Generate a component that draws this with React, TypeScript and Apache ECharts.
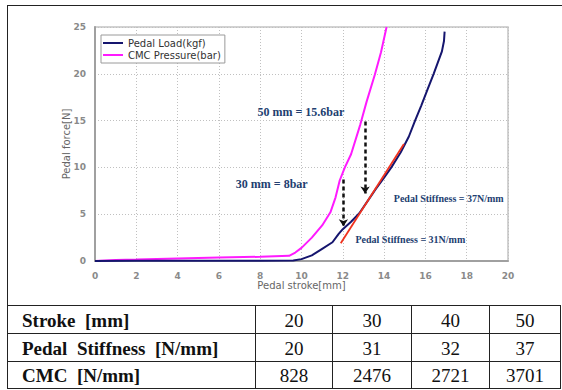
import React, { useEffect, useRef } from 'react';
import * as echarts from 'echarts';

// ---- chart data ----
const pedalLoad: [number, number][] = [
  [0, 0], [2, 0.02], [5, 0.03], [8, 0.04], [9.6, 0.05], [10, 0.2], [10.5, 0.6], [11, 1.3],
  [11.5, 2.0], [11.8, 2.9], [12, 3.4], [12.4, 4.2], [12.8, 5.1], [13.2, 6.4], [13.6, 7.7],
  [14, 8.9], [14.35, 10], [14.8, 11.6], [15.2, 13.3], [15.5, 15], [15.8, 16.6], [16.1, 18.3],
  [16.4, 20], [16.6, 21.2], [16.8, 22.4], [16.9, 23.5], [16.93, 24.5],
];
const cmcPressure: [number, number][] = [
  [0, 0], [1, 0.1], [2, 0.15], [4, 0.28], [6, 0.38], [8, 0.45], [9.4, 0.55], [9.7, 0.9],
  [10, 1.4], [10.5, 2.5], [11, 3.8], [11.4, 5.2], [11.65, 6.8], [11.85, 8.6], [12.1, 10],
  [12.4, 11.4], [12.85, 14.6], [13.15, 17], [13.55, 19.9], [13.85, 22.3], [14.12, 25],
];
const stiffnessLine: [number, number][] = [[11.9, 1.9], [14.96, 12.5]];
const arrowX = [12.03, 13.08];
const arrowFrom = [8.7, 14.9];
const arrowTo = [3.7, 7.2];
const noteTexts = ['50 mm = 15.6bar', '30 mm = 8bar', 'Pedal Stiffness = 37N/mm', 'Pedal Stiffness = 31N/mm'];
const noteX = [9.97, 8.56, 17.13, 15.27];
const noteY = [15.87, 8.24, 6.63, 2.32];
const seriesNames = ['Pedal Load(kgf)', 'CMC Pressure(bar)'];

// ---- table data ----
const tableLabels = ['Stroke\u00a0 [mm]', 'Pedal\u00a0 Stiffness\u00a0 [N/mm]', 'CMC\u00a0 [N/mm]'];
const strokeValues = [20, 30, 40, 50];
const stiffnessValues = [20, 31, 32, 37];
const cmcValues = [828, 2476, 2721, 3701];

export default function App() {
  const ref = useRef<HTMLDivElement>(null);
  useEffect(() => {
    if (!ref.current) return;
    const chart = echarts.init(ref.current, undefined, { renderer: 'svg' });

    const noteStyles = [
      { fontSize: 12 }, { fontSize: 12 }, { fontSize: 10 }, { fontSize: 10 },
    ];

    // table layout
    const L = 7, R = 561, T = 5, B = 388.5;
    const rowLines = [305.5, 333.5, 361.5, 388.5];
    const colLines = [255.5, 332.5, 411.5, 489.5, 560.5];
    const rows = [strokeValues, stiffnessValues, cmcValues];
    const lineStyle = { stroke: '#222', lineWidth: 1 };
    const serif = '"Liberation Serif", "Times New Roman", serif';
    const graphics: any[] = [
      { type: 'line', shape: { x1: L + 0.5, y1: T, x2: L + 0.5, y2: B }, style: lineStyle, silent: true },
      { type: 'line', shape: { x1: L, y1: T + 0.5, x2: R + 1, y2: T + 0.5 }, style: lineStyle, silent: true },
    ];
    rowLines.forEach((y) => {
      graphics.push({ type: 'line', shape: { x1: L, y1: y, x2: R, y2: y }, style: lineStyle, silent: true });
    });
    colLines.forEach((x) => {
      graphics.push({ type: 'line', shape: { x1: x, y1: rowLines[0], x2: x, y2: B }, style: lineStyle, silent: true });
    });
    rows.forEach((vals, r) => {
      const cy = (rowLines[r] + rowLines[r + 1]) / 2 + 0.5;
      graphics.push({
        type: 'text', x: 22, y: cy, silent: true,
        style: {
          text: tableLabels[r], fill: '#111', fontSize: 19, fontWeight: 'bold',
          fontFamily: serif, align: 'left', verticalAlign: 'middle',
        },
      });
      vals.forEach((v, c) => {
        graphics.push({
          type: 'text', x: (colLines[c] + colLines[c + 1]) / 2, y: cy, silent: true,
          style: {
            text: String(v), fill: '#111', fontSize: 19,
            fontFamily: serif, align: 'center', verticalAlign: 'middle',
          },
        });
      });
    });

    const tickLabel = { color: '#8a8a8a', fontSize: 9, fontWeight: 'bold' as const, fontFamily: '"DejaVu Sans", sans-serif' };

    chart.setOption({
      animation: false,
      backgroundColor: '#fff',
      grid: { left: 95, top: 27, width: 413, height: 234, show: true, borderColor: '#c4c4c4', borderWidth: 1.5, backgroundColor: '#fff' },
      legend: {
        data: seriesNames.map((n) => ({ name: n, icon: 'path://M0,0 H20 V2 H0 Z' })),
        orient: 'vertical', left: 101, top: 35,
        borderColor: '#9a9a9a', borderWidth: 1, padding: [3, 4, 3, 2], itemGap: 2,
        itemWidth: 20, itemHeight: 9,
        textStyle: { color: '#333', fontSize: 10, fontFamily: '"DejaVu Sans", sans-serif' },
        backgroundColor: '#fff',
      },
      xAxis: {
        type: 'value', min: 0, max: 20, interval: 2,
        name: 'Pedal stroke[mm]', nameLocation: 'middle', nameGap: 19, nameMoveOverlap: false,
        nameTextStyle: { color: '#666', fontSize: 10, fontFamily: '"DejaVu Sans", sans-serif' },
        axisLine: { show: true, lineStyle: { color: '#a0a0a0', width: 2 } },
        axisTick: { show: false },
        axisLabel: { ...tickLabel, margin: 10 },
        splitLine: { show: true, lineStyle: { color: '#c0c0c0', type: [1, 2], width: 1 } },
      },
      yAxis: {
        type: 'value', min: 0, max: 25, interval: 5,
        name: 'Pedal force[N]', nameLocation: 'middle', nameGap: 24, nameRotate: 90, nameMoveOverlap: false,
        nameTextStyle: { color: '#666', fontSize: 10, fontFamily: '"DejaVu Sans", sans-serif' },
        axisLine: { show: true, lineStyle: { color: '#a0a0a0', width: 2 } },
        axisTick: { show: false },
        axisLabel: { ...tickLabel, margin: 9 },
        splitLine: { show: true, lineStyle: { color: '#c0c0c0', type: [1, 2], width: 1 } },
      },
      series: [
        {
          name: seriesNames[1], type: 'line', data: cmcPressure, symbol: 'none',
          lineStyle: { color: '#ff1aff', width: 2 }, itemStyle: { color: '#ff1aff' }, z: 3,
        },
        {
          name: seriesNames[0], type: 'line', data: pedalLoad, symbol: 'none',
          lineStyle: { color: '#15156e', width: 2 }, itemStyle: { color: '#15156e' }, z: 4,
        },
        {
          name: 'stiffness', type: 'line', data: stiffnessLine, symbol: 'none',
          lineStyle: { color: '#f0321e', width: 1.8 }, z: 5,
          markLine: {
            silent: true, symbol: ['none', 'arrow'], symbolSize: 7,
            label: { show: false },
            lineStyle: { color: '#111', width: 2.5, type: [4, 3] },
            data: arrowX.map((x, i) => [{ coord: [x, arrowFrom[i]] }, { coord: [x, arrowTo[i]] }]),
          },
          markPoint: {
            silent: true, symbol: 'rect', symbolSize: 1, itemStyle: { color: 'rgba(0,0,0,0)' },
            data: noteTexts.map((t, i) => ({
              coord: [noteX[i], noteY[i]], value: t,
              label: {
                show: true, position: 'inside', formatter: t, color: '#223e70', fontWeight: 'bold',
                fontFamily: serif, fontSize: noteStyles[i].fontSize,
              },
            })),
          },
        },
      ],
      graphic: graphics,
    });
    return () => chart.dispose();
  }, []);
  return <div ref={ref} style={{ position: 'absolute', left: 0, top: 0, width: 562, height: 390, background: '#fff' }} />;
}
